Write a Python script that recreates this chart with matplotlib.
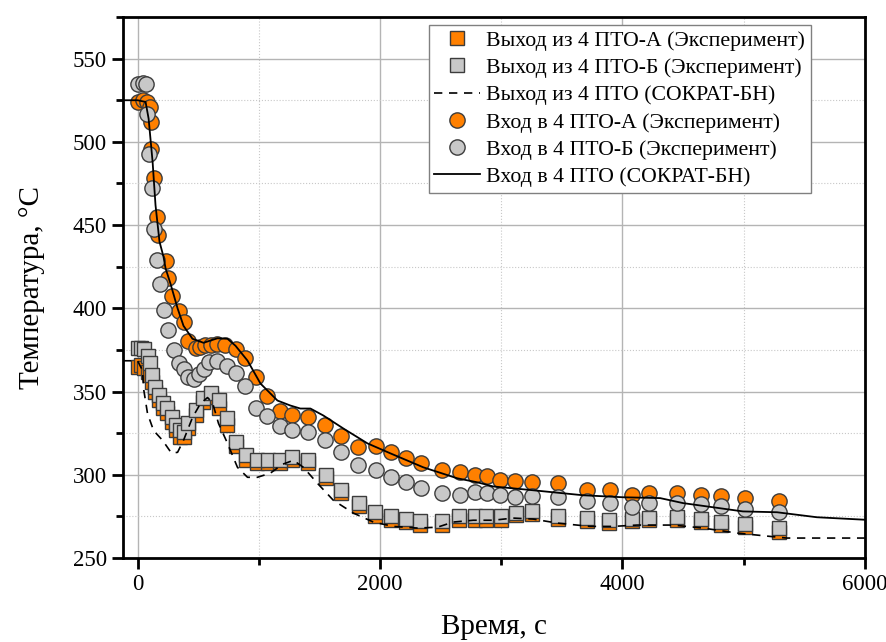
import matplotlib.pyplot as plt
from matplotlib.ticker import MultipleLocator

plt.rcParams['font.family'] = ['Liberation Serif', 'DejaVu Serif']

# Выход из 4 ПТО-А (эксперимент) - оранжевые квадраты
out_a_t = [0, 25, 49, 82, 99, 115, 140, 173, 206, 239, 280, 313, 354, 379, 420, 478, 536,
           602, 668, 734, 808, 898, 989, 1080, 1179, 1277, 1409, 1558, 1681, 1830, 1962,
           2093, 2217, 2332, 2514, 2654, 2786, 2876, 3000, 3124, 3256, 3470, 3709, 3890,
           4080, 4220, 4451, 4648, 4813, 5011, 5291]
out_a_T = [365, 366, 364, 362, 360, 356, 350, 345, 340, 337, 332, 327, 323, 323, 328, 336, 344,
           347, 340, 330, 317, 309, 307, 307, 307, 309, 307, 298, 289, 281, 275.5,
           273, 271.5, 270, 270, 273, 273, 273, 273, 276, 276.5, 273.5, 272, 271,
           272, 273, 273, 271.5, 270, 268.5, 265.5]

# Выход из 4 ПТО-Б (эксперимент) - серые квадраты
out_b_t = out_a_t
out_b_T = [376, 376, 375.5, 371.5, 367, 360, 353, 348, 343, 340, 335, 330, 327, 326, 331, 339, 346,
           349, 345, 334, 320, 312, 309, 309, 309, 310.5, 309, 300, 291, 283, 277.5,
           275, 273.5, 272, 272, 275, 275, 275.5, 275, 277, 278, 275, 274, 272.7,
           273.3, 274, 274.5, 273.3, 271.5, 270.3, 268]

# Выход из 4 ПТО (СОКРАТ-БН)
out_calc_t = [-120, 0, 41, 49, 82, 132, 206, 280, 330, 379, 453, 519, 577, 618, 668, 742, 824,
              907, 989, 1096, 1195, 1286, 1368, 1484, 1615, 1780, 1945, 2110, 2308, 2473,
              2604, 2769, 2934, 3099, 3264, 3462, 3733, 3923, 4121, 4418, 4665, 4945, 5217,
              5357, 5629, 6000]
out_calc_T = [368.5, 368.5, 362.6, 352, 336.8, 326.6, 320.7, 313, 313.5, 320.7, 334.4, 342.8,
              346.4, 343.4, 330.8, 318.9, 304.5, 298.5, 298.5, 301, 306.3, 308.7, 304.5, 294.9,
              284.7, 277, 271.6, 269, 268, 268.5, 271.6, 272.7, 272.7, 274, 273.4, 271, 269,
              269, 269.8, 269.8, 268, 265, 263, 262, 262, 262]

# Вход в 4 ПТО-А (эксперимент) - оранжевые круги
in_a_t = [0, 41, 74, 99, 107, 110, 132, 157, 165, 231, 255, 288, 338, 379, 420, 478, 519,
          560, 602, 659, 725, 808, 890, 973, 1071, 1179, 1277, 1409, 1549, 1681, 1821, 1970,
          2093, 2217, 2341, 2514, 2662, 2786, 2885, 2992, 3115, 3256, 3470, 3709, 3898,
          4080, 4220, 4451, 4648, 4813, 5011, 5291]
in_a_T = [524, 525, 524, 521, 512, 496, 478, 455, 444, 428.4, 418, 407.5, 398.5, 392, 380.5,
          376, 377, 378, 378, 378.7, 378, 375.7, 370, 359, 347.6, 338.6, 336, 335, 330,
          323.6, 316.5, 317, 313.5, 310, 307, 303, 301.5, 300, 299, 297, 296, 295.5, 295,
          290.7, 290.7, 288, 289, 289, 287.7, 287, 286, 284]

# Вход в 4 ПТО-Б (эксперимент) - серые круги
in_b_t = [0, 41, 66, 74, 91, 115, 132, 157, 181, 214, 255, 297, 338, 379, 420, 462, 503,
          544, 593, 659, 734, 808, 890, 973, 1071, 1179, 1277, 1409, 1549, 1681, 1821, 1970,
          2093, 2217, 2341, 2514, 2662, 2786, 2885, 2992, 3115, 3256, 3470, 3709, 3898,
          4080, 4220, 4451, 4648, 4813, 5011, 5291]
in_b_T = [534.5, 535.6, 534.5, 517, 493, 472, 447.6, 429, 414.7, 399, 387, 375, 367, 363.8,
          359, 357.8, 360.8, 363.8, 368, 368.6, 365.6, 361.4, 353.6, 340.4, 335.6, 329.6, 327,
          326, 321, 313.5, 306, 302.7, 298.5, 295.5, 292, 289, 288, 289.5, 289, 288, 286.5,
          287, 286.5, 284, 283, 280.5, 283, 283, 282.3, 281, 279.3, 277.5]

# Вход в 4 ПТО (СОКРАТ-БН)
in_calc_t = [-120, 0, 66, 91, 124, 148, 181, 214, 231, 272, 330, 379, 453, 544, 659, 742,
             808, 907, 1014, 1154, 1261, 1343, 1426, 1533, 1698, 1896, 2085, 2357, 2637, 2802,
             2934, 3264, 3676, 4006, 4311, 4500, 4994, 5275, 5604, 6000]
in_calc_T = [525, 525, 524, 514, 488, 462, 440, 431, 424, 414.7, 400, 389.5, 381.7, 379.3,
             382, 381.7, 377.5, 368.6, 354.8, 344.6, 341.6, 339.8, 339.8, 335.6, 327.8, 318.9,
             312.9, 304.5, 297.9, 295.5, 293, 290.7, 287.7, 286.5, 286, 283, 278, 277.5,
             274.5, 273]

orange = '#ff8000'
gray = '#c8c8c8'
edge = '#3c3c3c'

fig = plt.figure(figsize=(8.87, 6.42), dpi=100)
ax = fig.add_axes([0.1387, 0.1308, 0.8363, 0.8427])

ax.plot(out_a_t, out_a_T, 's', color=orange, mec=edge, mew=1, ms=9.5,
        label='Выход из 4 ПТО-А (Эксперимент)')
ax.plot(out_b_t, out_b_T, 's', color=gray, mec=edge, mew=1, ms=9.5,
        label='Выход из 4 ПТО-Б (Эксперимент)')
ax.plot(out_calc_t, out_calc_T, '--', color='black', lw=1.2, dashes=(5, 4),
        label='Выход из 4 ПТО (СОКРАТ-БН)')
ax.plot(in_a_t, in_a_T, 'o', color=orange, mec=edge, mew=1, ms=11,
        label='Вход в 4 ПТО-А (Эксперимент)')
ax.plot(in_b_t, in_b_T, 'o', color=gray, mec=edge, mew=1, ms=11,
        label='Вход в 4 ПТО-Б (Эксперимент)')
ax.plot(in_calc_t, in_calc_T, '-', color='black', lw=1.3,
        label='Вход в 4 ПТО (СОКРАТ-БН)')

ax.set_xlim(-120, 6000)
ax.set_ylim(250, 575)
ax.xaxis.set_major_locator(MultipleLocator(2000))
ax.xaxis.set_minor_locator(MultipleLocator(1000))
ax.yaxis.set_major_locator(MultipleLocator(50))
ax.yaxis.set_minor_locator(MultipleLocator(25))

ax.grid(True, which='major', color='#b4b4b4', lw=1, ls='-')
ax.grid(True, which='minor', color='#c8c8c8', lw=0.8, ls=':')
ax.set_axisbelow(True)

for s in ax.spines.values():
    s.set_linewidth(2)
ax.tick_params(which='major', direction='out', length=8, width=2, labelsize=16.5)
ax.tick_params(which='minor', direction='out', length=5, width=2)

ax.set_xlabel('Время, с', fontsize=21, labelpad=14)
ax.set_ylabel('Температура, °С', fontsize=21, labelpad=20)

leg = ax.legend(loc='upper right', bbox_to_anchor=(0.927, 0.985), borderaxespad=0,
                fontsize=15.7, frameon=True, fancybox=False, edgecolor='#808080',
                framealpha=1, handlelength=2.1, borderpad=0.25, labelspacing=0.32,
                handletextpad=0.3)
leg.get_frame().set_linewidth(1)

fig.savefig('out.png', dpi=100)
